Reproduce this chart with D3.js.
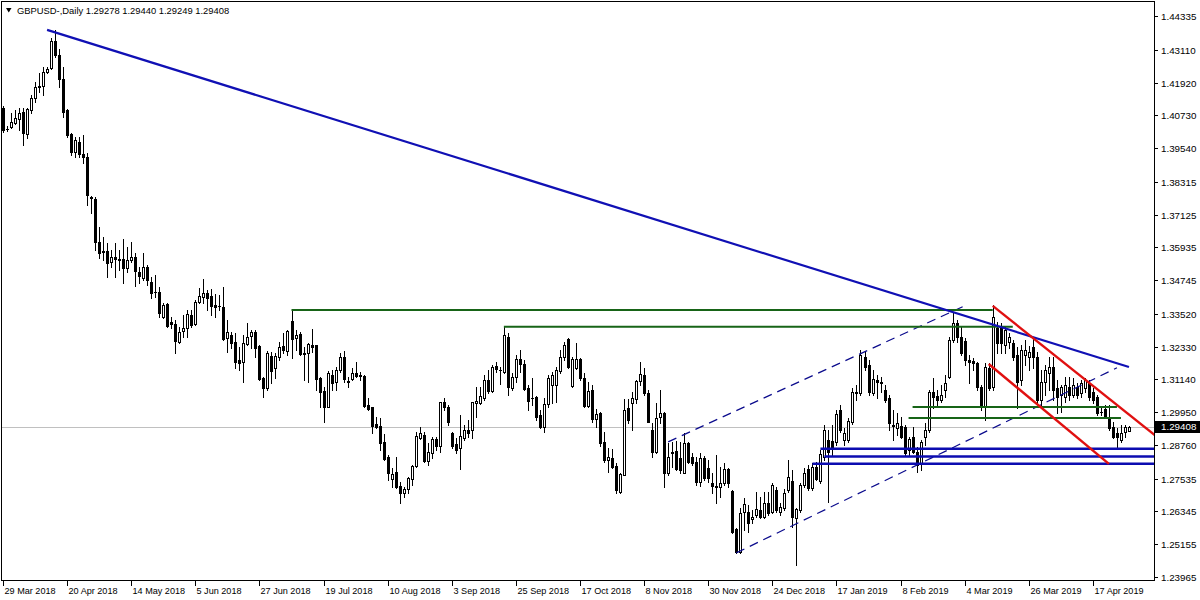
<!DOCTYPE html>
<html><head><meta charset="utf-8">
<script src="https://cdn.jsdelivr.net/npm/d3@7"></script>
<style>
html,body{margin:0;padding:0;background:#fff;}
svg{display:block;}
text{font-family:'Liberation Sans',Arial,sans-serif;}
</style></head><body>
<svg id="chart" width="1200" height="600"></svg>
<script>
// ---- DATA (GBPUSD daily, one entry per bar) ----
const openP = [1.4100,1.4023,1.4031,1.4045,1.4060,1.4085,1.4005,1.4092,1.4136,1.4179,1.4179,1.4230,1.4245,1.4343,1.4292,1.4205,1.4092,1.4005,1.3940,1.3976,
1.3933,1.3922,1.3776,1.3769,1.3613,1.3580,1.3580,1.3541,1.3559,1.3551,1.3551,1.3519,1.3548,1.3559,1.3504,1.3482,1.3522,1.3468,1.3432,1.3432,
1.3341,1.3388,1.3323,1.3315,1.3250,1.3290,1.3301,1.3348,1.3315,1.3395,1.3413,1.3428,1.3417,1.3384,1.3381,1.3377,1.3265,1.3276,1.3250,1.3185,
1.3178,1.3243,1.3272,1.3286,1.3236,1.3119,1.3083,1.3199,1.3156,1.3196,1.3236,1.3218,1.3326,1.3265,1.3279,1.3210,1.3210,1.3239,1.3239,1.3119,
1.3072,1.3014,1.3130,1.3105,1.3148,1.3196,1.3109,1.3116,1.3138,1.3130,1.3127,1.3021,1.3014,1.2953,1.2945,1.2887,1.2833,1.2753,1.2778,1.2727,
1.2702,1.2717,1.2753,1.2800,1.2902,1.2913,1.2818,1.2847,1.2898,1.2873,1.3032,1.3014,1.2920,1.2880,1.2865,1.2902,1.2931,1.2931,1.3029,1.3029,
1.3047,1.3112,1.3072,1.3163,1.3149,1.3141,1.3268,1.3083,1.3123,1.3188,1.3170,1.3083,1.3047,1.3050,1.2985,1.2942,1.3025,1.3094,1.3094,1.3145,
1.3196,1.3261,1.3090,1.3156,1.3188,1.3119,1.3018,1.3076,1.2971,1.2992,1.2887,1.2822,1.2829,1.2800,1.2706,1.2767,1.3010,1.3029,1.3043,1.3109,
1.3130,1.3065,1.2931,1.2851,1.2978,1.2992,1.2775,1.2847,1.2854,1.2829,1.2775,1.2883,1.2833,1.2815,1.2742,1.2829,1.2793,1.2738,1.2727,1.2724,
1.2738,1.2789,1.2709,1.2571,1.2488,1.2633,1.2633,1.2608,1.2622,1.2640,1.2615,1.2666,1.2633,1.2713,1.2633,1.2648,1.2713,1.2746,1.2611,1.2640,
1.2731,1.2789,1.2720,1.2796,1.2746,1.2833,1.2894,1.2891,1.2887,1.3003,1.2894,1.2894,1.2960,1.3069,1.3065,1.3196,1.3167,1.3065,1.3112,1.3105,
1.3076,1.3047,1.2949,1.2938,1.2945,1.2941,1.2858,1.2905,1.2851,1.2811,1.2905,1.2931,1.3069,1.3054,1.3040,1.3076,1.3123,1.3257,1.3319,1.3268,
1.3254,1.3185,1.3181,1.3174,1.3087,1.3014,1.3156,1.3087,1.3301,1.3305,1.3239,1.3250,1.3247,1.3203,1.3112,1.3203,1.3196,1.3232,1.3196,1.3040,
1.3105,1.3138,1.3159,1.3083,1.3058,1.3050,1.3087,1.3058,1.3087,1.3065,1.3083,1.3101,1.3069,1.3050,1.2996,1.3007,1.2978,1.2942,1.2920,1.2894,
1.2923,1.29278];
const highP = [1.4107,1.4034,1.4081,1.4092,1.4100,1.4100,1.4100,1.4147,1.4194,1.4227,1.4248,1.4248,1.4354,1.4383,1.4314,1.4248,1.4096,1.4009,1.3994,1.3994,
1.4002,1.3936,1.3780,1.3776,1.3668,1.3631,1.3609,1.3584,1.3609,1.3584,1.3624,1.3595,1.3613,1.3573,1.3522,1.3573,1.3530,1.3486,1.3493,1.3450,
1.3392,1.3392,1.3341,1.3330,1.3305,1.3348,1.3366,1.3366,1.3403,1.3446,1.3479,1.3439,1.3442,1.3424,1.3421,1.3450,1.3330,1.3286,1.3283,1.3232,
1.3276,1.3319,1.3294,1.3294,1.3239,1.3123,1.3218,1.3214,1.3210,1.3250,1.3283,1.3294,1.3366,1.3294,1.3286,1.3232,1.3247,1.3297,1.3239,1.3123,
1.3087,1.3145,1.3148,1.3159,1.3210,1.3218,1.3123,1.3156,1.3178,1.3141,1.3130,1.3047,1.3014,1.2978,1.2974,1.2916,1.2840,1.2793,1.2833,1.2742,
1.2724,1.2760,1.2804,1.2923,1.2942,1.2923,1.2883,1.2905,1.2905,1.3032,1.3047,1.3021,1.2923,1.2902,1.2985,1.2949,1.2967,1.3032,1.3087,1.3087,
1.3130,1.3148,1.3167,1.3178,1.3159,1.3305,1.3283,1.3138,1.3203,1.3221,1.3185,1.3094,1.3119,1.3054,1.3003,1.3047,1.3130,1.3141,1.3159,1.3221,
1.3250,1.3265,1.3196,1.3247,1.3192,1.3138,1.3105,1.3094,1.3007,1.2996,1.2923,1.2865,1.2862,1.2811,1.2775,1.3043,1.3043,1.3069,1.3112,1.3178,
1.3156,1.3076,1.2956,1.3029,1.3076,1.2996,1.2883,1.2887,1.2891,1.2887,1.2920,1.2887,1.2847,1.2833,1.2847,1.2836,1.2822,1.2775,1.2840,1.2796,
1.2811,1.2793,1.2713,1.2575,1.2648,1.2684,1.2658,1.2640,1.2706,1.2687,1.2706,1.2706,1.2738,1.2724,1.2666,1.2717,1.2822,1.2786,1.2648,1.2738,
1.2793,1.2804,1.2811,1.2815,1.2858,1.2949,1.2931,1.2949,1.3003,1.3021,1.2938,1.2974,1.3083,1.3094,1.3221,1.3218,1.3185,1.3148,1.3130,1.3123,
1.3094,1.3058,1.3003,1.2992,1.2978,1.2949,1.2905,1.2941,1.2869,1.2894,1.2956,1.3076,1.3119,1.3076,1.3094,1.3130,1.3268,1.3359,1.3330,1.3305,
1.3265,1.3203,1.3192,1.3178,1.3094,1.3174,1.3174,1.3384,1.3323,1.3319,1.3305,1.3283,1.3257,1.3232,1.3239,1.3257,1.3236,1.3265,1.3214,1.3148,
1.3167,1.3196,1.3196,1.3112,1.3094,1.3123,1.3123,1.3119,1.3101,1.3112,1.3119,1.3112,1.3083,1.3058,1.3010,1.3021,1.3021,1.2960,1.2938,1.2949,
1.2949,1.29440];
const lowP = [1.4012,1.4016,1.4027,1.4042,1.4020,1.3965,1.3991,1.4081,1.4121,1.4158,1.4147,1.4227,1.4242,1.4285,1.4176,1.4067,1.3994,1.3929,1.3922,1.3922,
1.3900,1.3747,1.3718,1.3584,1.3555,1.3548,1.3486,1.3522,1.3486,1.3511,1.3464,1.3504,1.3541,1.3453,1.3464,1.3475,1.3457,1.3410,1.3413,1.3341,
1.3337,1.3305,1.3301,1.3210,1.3247,1.3268,1.3268,1.3305,1.3312,1.3392,1.3392,1.3366,1.3348,1.3341,1.3366,1.3257,1.3214,1.3228,1.3156,1.3148,
1.3105,1.3239,1.3228,1.3196,1.3112,1.3050,1.3076,1.3101,1.3119,1.3185,1.3210,1.3203,1.3192,1.3221,1.3203,1.3112,1.3105,1.3214,1.3076,1.3014,
1.2960,1.3012,1.3076,1.3076,1.3141,1.3105,1.3087,1.3112,1.3123,1.3112,1.3014,1.3003,1.2920,1.2938,1.2858,1.2822,1.2749,1.2724,1.2720,1.2666,
1.2687,1.2702,1.2731,1.2796,1.2898,1.2815,1.2804,1.2829,1.2858,1.2851,1.3003,1.2949,1.2865,1.2847,1.2789,1.2895,1.2905,1.2902,1.2978,1.3025,
1.3040,1.3065,1.3069,1.3141,1.3098,1.3138,1.3058,1.3076,1.3105,1.3141,1.3076,1.3003,1.3021,1.2967,1.2938,1.2923,1.3014,1.3029,1.3032,1.3138,
1.3185,1.3156,1.3087,1.3152,1.3112,1.3014,1.3014,1.2960,1.2942,1.2873,1.2815,1.2778,1.2793,1.2702,1.2702,1.2767,1.2956,1.2931,1.3029,1.3094,
1.3058,1.2960,1.2833,1.2847,1.2956,1.2724,1.2767,1.2796,1.2786,1.2775,1.2775,1.2811,1.2804,1.2731,1.2727,1.2749,1.2742,1.2702,1.2666,1.2687,
1.2731,1.2724,1.2557,1.2484,1.2484,1.2568,1.2560,1.2593,1.2615,1.2611,1.2611,1.2622,1.2629,1.2633,1.2622,1.2640,1.2706,1.2579,1.2441,1.2633,
1.2724,1.2713,1.2713,1.2749,1.2738,1.2822,1.2669,1.2840,1.2876,1.2923,1.2876,1.2887,1.2953,1.3040,1.3058,1.3148,1.3058,1.3058,1.3047,1.3069,
1.3032,1.2931,1.2894,1.2913,1.2902,1.2840,1.2840,1.2847,1.2778,1.2786,1.2876,1.2923,1.3010,1.3021,1.3032,1.3050,1.3119,1.3250,1.3250,1.3203,
1.3167,1.3101,1.3148,1.3076,1.3003,1.2967,1.3076,1.3076,1.3210,1.3210,1.3210,1.3228,1.3185,1.3011,1.3094,1.3167,1.3148,1.3156,1.3029,1.3014,
1.3058,1.3076,1.3040,1.2992,1.2996,1.3032,1.3040,1.3050,1.3047,1.3050,1.3069,1.3040,1.3029,1.2985,1.2985,1.2974,1.2931,1.2902,1.2869,1.2887,
1.2905,1.29249];
const closeP = [1.4020,1.4022,1.4049,1.4063,1.4081,1.4009,1.4096,1.4136,1.4176,1.4177,1.4230,1.4241,1.4343,1.4292,1.4205,1.4085,1.4002,1.3940,1.3983,1.3933,
1.3922,1.3784,1.3773,1.3613,1.3573,1.3577,1.3537,1.3559,1.3551,1.3549,1.3519,1.3548,1.3559,1.3508,1.3490,1.3522,1.3475,1.3428,1.3430,1.3355,
1.3384,1.3308,1.3315,1.3254,1.3286,1.3301,1.3352,1.3312,1.3395,1.3417,1.3428,1.3410,1.3381,1.3377,1.3379,1.3261,1.3286,1.3247,1.3178,1.3174,
1.3247,1.3268,1.3286,1.3228,1.3116,1.3083,1.3210,1.3145,1.3199,1.3232,1.3221,1.3290,1.3261,1.3276,1.3207,1.3207,1.3243,1.3232,1.3116,1.3069,
1.3014,1.3138,1.3101,1.3148,1.3196,1.3116,1.3105,1.3138,1.3127,1.3128,1.3018,1.3007,1.2945,1.2941,1.2883,1.2825,1.2775,1.2771,1.2724,1.2702,
1.2717,1.2757,1.2800,1.2909,1.2920,1.2818,1.2851,1.2898,1.2873,1.3032,1.3014,1.2960,1.2873,1.2858,1.2909,1.2931,1.2920,1.3032,1.3036,1.3054,
1.3112,1.3072,1.3159,1.3152,1.3147,1.3276,1.3087,1.3123,1.3188,1.3170,1.3079,1.3036,1.3045,1.2978,1.2942,1.3025,1.3119,1.3130,1.3148,1.3196,
1.3239,1.3159,1.3188,1.3188,1.3119,1.3018,1.3072,1.2971,1.2989,1.2883,1.2822,1.2833,1.2796,1.2713,1.2771,1.3003,1.2967,1.3047,1.3109,1.3134,
1.3065,1.2960,1.2851,1.2974,1.2992,1.2775,1.2833,1.2851,1.2789,1.2786,1.2883,1.2815,1.2811,1.2742,1.2829,1.2757,1.2757,1.2727,1.2724,1.2738,
1.2789,1.2738,1.2560,1.2488,1.2629,1.2662,1.2593,1.2615,1.2644,1.2615,1.2666,1.2629,1.2731,1.2640,1.2651,1.2702,1.2760,1.2615,1.2644,1.2731,
1.2775,1.2720,1.2796,1.2753,1.2844,1.2931,1.2851,1.2865,1.2989,1.2931,1.2920,1.2963,1.3069,1.3065,1.3203,1.3159,1.3069,1.3116,1.3105,1.3101,
1.3040,1.2956,1.2945,1.2956,1.2905,1.2847,1.2898,1.2851,1.2804,1.2887,1.2931,1.3069,1.3050,1.3040,1.3058,1.3101,1.3257,1.3319,1.3268,1.3210,
1.3185,1.3178,1.3174,1.3087,1.3014,1.3159,1.3083,1.3341,1.3247,1.3247,1.3294,1.3268,1.3196,1.3105,1.3221,1.3221,1.3214,1.3196,1.3040,1.3105,
1.3148,1.3159,1.3076,1.3050,1.3087,1.3094,1.3058,1.3094,1.3058,1.3101,1.3112,1.3050,1.3040,1.2992,1.2994,1.2978,1.2938,1.2905,1.2905,1.2920,
1.2942,1.29408];

// axis labels
const priceTicks = [1.44335,1.43110,1.41920,1.40730,1.39540,1.38315,1.37125,1.35935,1.34745,1.33520,1.32330,1.31140,1.29950,1.28760,1.27535,1.26345,1.25155,1.23965];
const dateLabels = ["29 Mar 2018","20 Apr 2018","14 May 2018","5 Jun 2018","27 Jun 2018","19 Jul 2018","10 Aug 2018","3 Sep 2018","25 Sep 2018","17 Oct 2018","8 Nov 2018","30 Nov 2018","24 Dec 2018","17 Jan 2019","8 Feb 2019","4 Mar 2019","26 Mar 2019","17 Apr 2019"];
const dateBarIndex = [0,16,32,48,64,80,96,112,128,144,160,176,192,208,224,240,256,272];

// drawn objects (bar index, price)
const blueTrend = [[11,1.4383],[281,1.3159]];
const greenLevels = [[72,247,1.3366],[125,252,1.3305],[227,278,1.3014],[226,279,1.2974]];
const blueLevels = [[204,1.2862],[205,1.2834],[202,1.2808]];
const dashUpper = [[166,1.2887],[240,1.3381]];
const dashLower = [[183,1.2484],[278,1.3156]];
const redUpper = [[247,1.3381],[288,1.2905]];
const redLower = [[246,1.3170],[276,1.2807]];
const lastPrice = 1.29408;
const headerText = "GBPUSD-,Daily  1.29278 1.29440 1.29249 1.29408";

// ---- LAYOUT ----
const L = 1, R = 1154, T = 1, B = 580;
const svg = d3.select('#chart');
const n = closeP.length;
const x = d3.scaleLinear().domain([0, n - 1]).range([3, 3 + (n - 1) * 4.007]);
const y = d3.scaleLinear().domain([1.23965, 1.44335]).range([577, 16]);

svg.append('defs').append('clipPath').attr('id', 'clip')
  .append('rect').attr('x', L + 1).attr('y', T + 1).attr('width', R - L - 1).attr('height', B - T - 1);

// current price line (behind candles)
svg.append('line').attr('x1', L).attr('x2', R).attr('y1', Math.round(y(lastPrice)) + 0.5).attr('y2', Math.round(y(lastPrice)) + 0.5)
  .attr('stroke', '#c0c0c0').attr('stroke-width', 1);

const plot = svg.append('g').attr('clip-path', 'url(#clip)');
const bars = d3.range(n).map(i => ({i, o: openP[i], h: highP[i], l: lowP[i], c: closeP[i]}));

const cg = plot.append('g');
bars.forEach(d => {
  const cx = Math.round(x(d.i));
  const hi = Math.max(d.h, d.o, d.c), lo = Math.min(d.l, d.o, d.c);
  const yh = Math.round(y(hi)), yl = Math.round(y(lo));
  cg.append('rect').attr('x', cx).attr('y', yh).attr('width', 1).attr('height', Math.max(1, yl - yh + 1)).attr('fill', '#000');
  const top = Math.round(y(Math.max(d.o, d.c))), bot = Math.round(y(Math.min(d.o, d.c)));
  const hgt = Math.max(1, bot - top + 1);
  cg.append('rect').attr('x', cx - 1).attr('y', top).attr('width', 3).attr('height', hgt).attr('fill', '#000');
  if (d.c > d.o && hgt > 2) {
    cg.append('rect').attr('x', cx).attr('y', top + 1).attr('width', 1).attr('height', hgt - 2).attr('fill', '#fff');
  }
});

const line = d3.line().x(d => x(d[0])).y(d => y(d[1]));

// dashed channel
[dashUpper, dashLower].forEach(seg => {
  plot.append('path').attr('d', line(seg)).attr('fill', 'none').attr('stroke', '#0a0a8c').attr('stroke-width', 1.2).attr('stroke-dasharray', '9,6');
});
// green levels
greenLevels.forEach(gl => {
  plot.append('line').attr('x1', x(gl[0])).attr('x2', x(gl[1])).attr('y1', y(gl[2])).attr('y2', y(gl[2]))
    .attr('stroke', '#176417').attr('stroke-width', 2);
});
// blue levels to right edge
blueLevels.forEach(bl => {
  plot.append('line').attr('x1', x(bl[0])).attr('x2', R).attr('y1', y(bl[1])).attr('y2', y(bl[1]))
    .attr('stroke', '#0c0cb0').attr('stroke-width', 2.5);
});
// blue trend
plot.append('path').attr('d', line(blueTrend)).attr('fill', 'none').attr('stroke', '#1010b4').attr('stroke-width', 2.2);
// red channel
[redUpper, redLower].forEach(seg => {
  plot.append('path').attr('d', line(seg)).attr('fill', 'none').attr('stroke', '#e01010').attr('stroke-width', 2.4);
});

// frame
svg.append('rect').attr('x', L + 0.5).attr('y', T + 0.5).attr('width', R - L).attr('height', B - T)
  .attr('fill', 'none').attr('stroke', '#000').attr('stroke-width', 1);

// price axis
const pa = svg.append('g');
priceTicks.forEach(p => {
  const yy = Math.round(y(p)) + 0.5;
  pa.append('line').attr('x1', R + 0.5).attr('x2', R + 4).attr('y1', yy).attr('y2', yy).attr('stroke', '#000');
  pa.append('text').attr('x', 1161).attr('y', yy).attr('dy', '0.35em').attr('font-size', '9.8px').attr('fill', '#000')
    .text(p.toFixed(5));
});
// last price box
const ly = Math.round(y(lastPrice));
svg.append('rect').attr('x', R + 1).attr('y', ly - 6).attr('width', 1200 - R - 1).attr('height', 12).attr('fill', '#000');
svg.append('text').attr('x', 1161).attr('y', ly).attr('dy', '0.35em').attr('font-size', '9.8px').attr('fill', '#fff').text(lastPrice.toFixed(5));

// time axis
const ta = svg.append('g');
dateLabels.forEach((lab, k) => {
  const xx = Math.round(x(dateBarIndex[k])) + 0.5;
  ta.append('line').attr('x1', xx).attr('x2', xx).attr('y1', B + 0.5).attr('y2', B + 6).attr('stroke', '#000');
  ta.append('text').attr('x', xx + 1).attr('y', 594).attr('font-size', '9.1px').attr('fill', '#000').text(lab);
});

// header
svg.append('path').attr('d', 'M6,8 L11.5,8 L8.75,12.5 Z').attr('fill', '#000');
svg.append('text').attr('x', 17).attr('y', 13.5).attr('font-size', '9.4px').attr('fill', '#000').text(headerText);
</script>
</body></html>
